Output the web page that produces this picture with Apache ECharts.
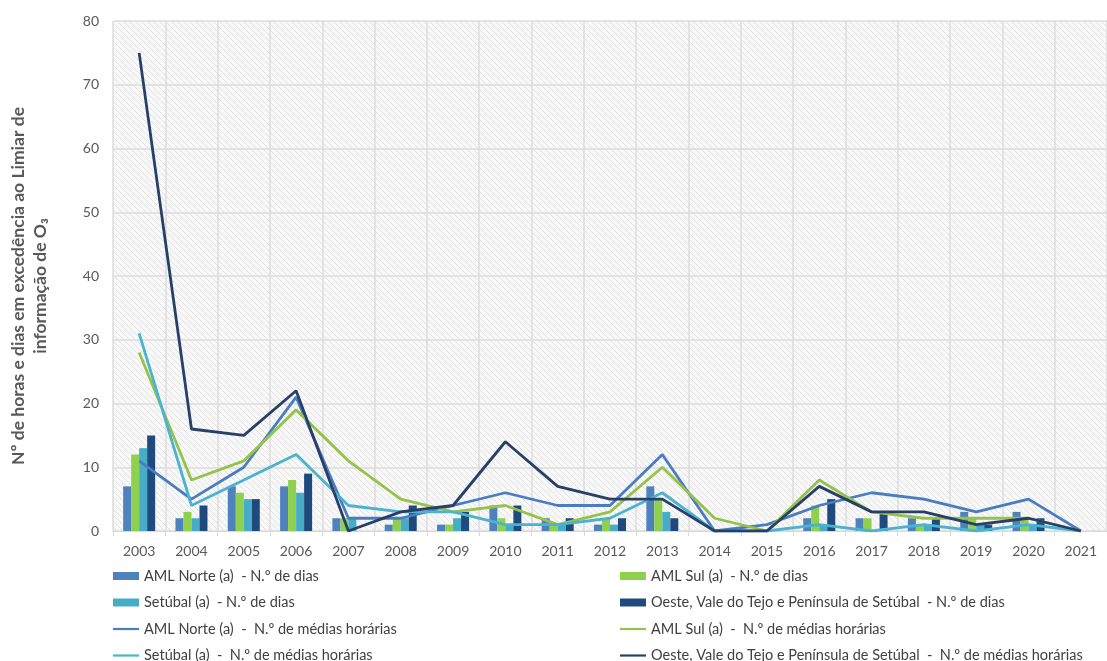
<!DOCTYPE html>
<html>
<head>
<meta charset="utf-8">
<script src="https://cdn.jsdelivr.net/npm/echarts@6/dist/echarts.min.js"></script>
<style>
  html, body { margin: 0; padding: 0; background: #ffffff; }
  #chart { width: 1107px; height: 661px; }
</style>
</head>
<body>
<div id="chart"></div>
<script>
// Years on the category axis
const years = ['2003','2004','2005','2006','2007','2008','2009','2010','2011','2012',
               '2013','2014','2015','2016','2017','2018','2019','2020','2021'];

// N.º de dias (bars)
const norteDias   = [7, 2, 7, 7, 2, 1, 1, 4, 2, 1, 7, 0, 0, 2, 2, 2, 3, 3, 0];
const sulDias     = [12, 3, 6, 8, 2, 2, 1, 2, 1, 2, 5, 0, 0, 4, 2, 1, 2, 2, 0];
const setubalDias = [13, 2, 5, 6, 2, 2, 2, 1, 1, 1, 3, 0, 0, 1, 0, 1, 1, 1, 0];
const oesteDias   = [15, 4, 5, 9, 0, 4, 3, 4, 2, 2, 2, 0, 0, 5, 3, 2, 1, 2, 0];

// N.º de médias horárias (lines)
const norteHoras   = [11, 5, 10, 21, 2, 2, 4, 6, 4, 4, 12, 0, 1, 4, 6, 5, 3, 5, 0];
const sulHoras     = [28, 8, 11, 19, 11, 5, 3, 4, 1, 3, 10, 2, 0, 8, 3, 2, 2, 2, 0];
const setubalHoras = [31, 4, 8, 12, 4, 3, 3, 1, 1, 2, 6, 0, 0, 1, 0, 1, 0, 1, 0];
const oesteHoras   = [75, 16, 15, 22, 0, 3, 4, 14, 7, 5, 5, 0, 0, 7, 3, 3, 1, 2, 0];

// Series names
const names = {
  norteDias: 'AML Norte (a)  - N.º de dias',
  sulDias: 'AML Sul (a)  - N.º de dias',
  setubalDias: 'Setúbal (a)  - N.º de dias',
  oesteDias: 'Oeste, Vale do Tejo e Península de Setúbal  - N.º de dias',
  norteHoras: 'AML Norte (a)  -  N.º de médias horárias',
  sulHoras: 'AML Sul (a)  -  N.º de médias horárias',
  setubalHoras: 'Setúbal (a)  -  N.º de médias horárias',
  oesteHoras: 'Oeste, Vale do Tejo e Península de Setúbal  -  N.º de médias horárias'
};

const yTitle = 'Nº de horas e dias em excedência ao Limiar de\ninformação de O₃';

// Diagonal hatch used as plot-area fill
function hatchPattern() {
  const c = document.createElement('canvas');
  c.width = 6; c.height = 6;
  const g = c.getContext('2d');
  g.fillStyle = '#f8f8f8';
  g.fillRect(0, 0, 6, 6);
  g.strokeStyle = '#e2e2e2';
  g.lineWidth = 1;
  g.beginPath();
  g.moveTo(0, 0); g.lineTo(6, 6);
  g.moveTo(-3, 3); g.lineTo(3, 9);
  g.moveTo(3, -3); g.lineTo(9, 3);
  g.stroke();
  return c;
}

const FONT = 'Lato';
const barColors  = { norte: '#4f81bd', sul: '#8fd04f', setubal: '#47adc6', oeste: '#1f4a7d' };
const lineColors = { norte: '#4a7cc2', sul: '#96c24c', setubal: '#4bb3cf', oeste: '#283f6a' };

// thin horizontal stroke used as the legend key of the line series
const LINE_ICON = 'path://M0,0 M26,8 M0,2.9 L26,2.9 L26,5.1 L0,5.1 Z';

function barSeries(name, data, color) {
  return {
    name, type: 'bar', data, barWidth: 8, barGap: '0%',
    itemStyle: { color }, z: 2
  };
}
function lineSeries(name, data, color) {
  return {
    name, type: 'line', data, symbol: 'none', showSymbol: false,
    lineStyle: { color, width: 2.8 }, itemStyle: { color }, z: 3
  };
}

const legendText = { color: '#404040', fontSize: 14.5, fontFamily: FONT, lineHeight: 16 };
const legendBase = {
  orient: 'vertical', top: 568, height: 100, padding: 0, itemGap: 10.5,
  itemWidth: 26, itemHeight: 8, textStyle: legendText
};

const chart = echarts.init(document.getElementById('chart'), null, { renderer: 'canvas' });
chart.setOption({
  animation: false,
  backgroundColor: '#ffffff',
  grid: {
    left: 113, top: 21, width: 1007, height: 510,
    show: true, borderWidth: 0,
    backgroundColor: { image: hatchPattern(), repeat: 'repeat' }
  },
  legend: [
    Object.assign({}, legendBase, {
      left: 113,
      data: [
        { name: names.norteDias, icon: 'rect' },
        { name: names.setubalDias, icon: 'rect' },
        { name: names.norteHoras, icon: LINE_ICON },
        { name: names.setubalHoras, icon: LINE_ICON }
      ]
    }),
    Object.assign({}, legendBase, {
      left: 620,
      data: [
        { name: names.sulDias, icon: 'rect' },
        { name: names.oesteDias, icon: 'rect' },
        { name: names.sulHoras, icon: LINE_ICON },
        { name: names.oesteHoras, icon: LINE_ICON }
      ]
    })
  ],
  graphic: [{
    type: 'text', x: 29, y: 286, rotation: Math.PI / 2,
    style: {
      text: yTitle, fill: '#595959', font: 'bold 17.5px ' + FONT,
      align: 'center', verticalAlign: 'middle', lineHeight: 22
    }
  }],
  xAxis: {
    type: 'category', data: years, boundaryGap: true,
    axisLine: { lineStyle: { color: '#d9d9d9', width: 1 } },
    axisTick: { show: true, interval: 0, length: 5, lineStyle: { color: '#d9d9d9' } },
    axisLabel: { color: '#595959', fontSize: 14, fontFamily: FONT, margin: 13, interval: 0 },
    splitLine: { show: true, interval: 0, lineStyle: { color: '#dcdcdc', width: 1.5 } }
  },
  yAxis: {
    type: 'value', min: 0, max: 80, interval: 10,
    axisLine: { show: false }, axisTick: { show: false },
    axisLabel: { color: '#595959', fontSize: 14, fontFamily: FONT, margin: 14 },
    splitLine: { lineStyle: { color: '#dcdcdc', width: 1.5 } }
  },
  series: [
    barSeries(names.norteDias, norteDias, barColors.norte),
    barSeries(names.sulDias, sulDias, barColors.sul),
    barSeries(names.setubalDias, setubalDias, barColors.setubal),
    barSeries(names.oesteDias, oesteDias, barColors.oeste),
    lineSeries(names.norteHoras, norteHoras, lineColors.norte),
    lineSeries(names.sulHoras, sulHoras, lineColors.sul),
    lineSeries(names.setubalHoras, setubalHoras, lineColors.setubal),
    lineSeries(names.oesteHoras, oesteHoras, lineColors.oeste)
  ]
});
</script>
</body>
</html>
